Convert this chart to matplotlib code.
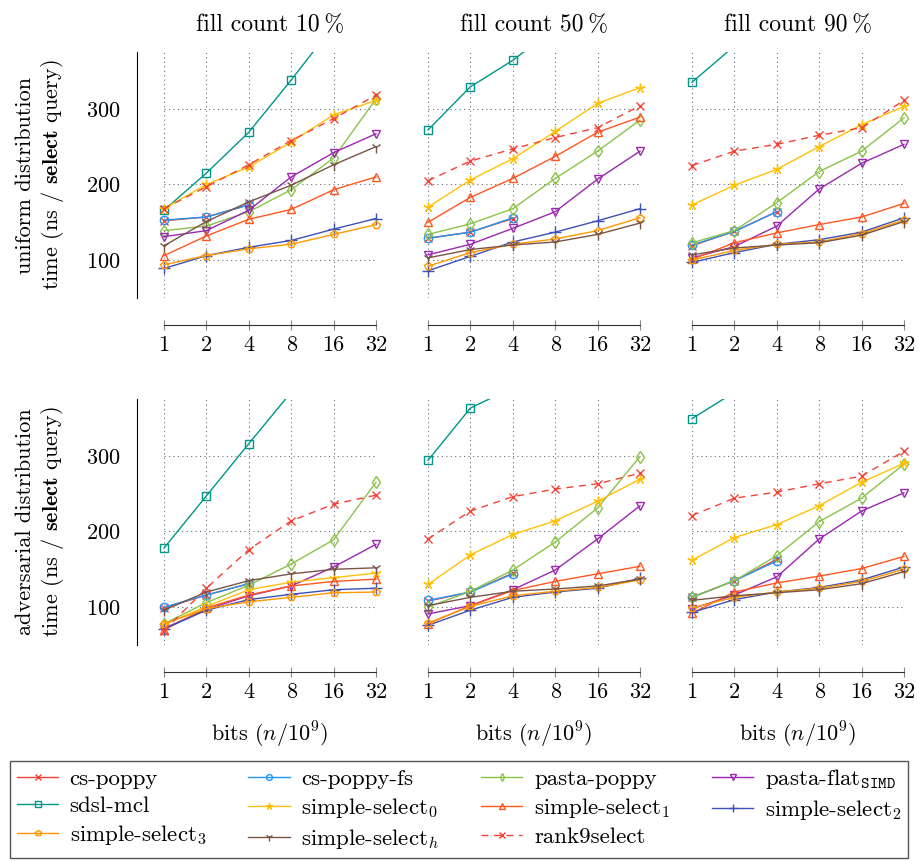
import matplotlib.pyplot as plt
from matplotlib.patches import Rectangle
from matplotlib.ticker import NullLocator

plt.rcParams['font.family'] = ['cmr10', 'DejaVu Serif']
plt.rcParams['mathtext.fontset'] = 'cm'
plt.rcParams['axes.formatter.use_mathtext'] = True

bits = [1, 2, 4, 8, 16, 32]
bit_labels = ['1', '2', '4', '8', '16', '32']
fill_counts = ['10', '50', '90']
distributions = ['uniform', 'adversarial']

# ns per select query, one list per fill count (10%, 50%, 90%)
# cs-poppy only runs up to 4e9 bits
cs_poppy_uniform = [[152, 157, 173], [129, 137, 155], [119, 138, 164]]
cs_poppy_adversarial = [[99, 116, 131], [108, 120, 145], [113, 135, 163]]
cs_poppy_fs_uniform = [[153, 157, 173], [129, 137, 156], [120, 138, 164]]
cs_poppy_fs_adversarial = [[100, 116, 131], [109, 120, 144], [113, 135, 161]]
pasta_poppy_uniform = [[139, 145, 164, 193, 235, 313],
                       [134, 148, 168, 208, 244, 285],
                       [123, 139, 176, 217, 244, 288]]
pasta_poppy_adversarial = [[78, 106, 129, 157, 189, 265],
                           [100, 121, 149, 186, 231, 299],
                           [113, 135, 168, 213, 244, 289]]
pasta_flat_uniform = [[131, 139, 166, 210, 242, 267],
                      [107, 121, 142, 164, 207, 244],
                      [103, 118, 145, 194, 228, 253]]
pasta_flat_adversarial = [[72, 97, 115, 128, 153, 183],
                          [91, 102, 123, 149, 190, 234],
                          [98, 116, 140, 190, 227, 251]]
sdsl_mcl_uniform = [[166, 215, 269, 338, 410, 500],
                    [272, 329, 364, 407, 450, 500],
                    [335, 383, 420, 460, 500, 540]]
sdsl_mcl_adversarial = [[178, 247, 316, 384, 440, 500],
                        [294, 363, 390, 420, 450, 500],
                        [349, 384, 410, 440, 470, 500]]
simple0_uniform = [[168, 200, 223, 256, 292, 311],
                   [170, 206, 234, 270, 307, 328],
                   [173, 199, 220, 250, 279, 303]]
simple0_adversarial = [[77, 101, 123, 133, 139, 145],
                       [130, 169, 196, 214, 240, 269],
                       [162, 192, 209, 234, 265, 290]]
simple1_uniform = [[106, 132, 154, 167, 193, 210],
                   [150, 183, 208, 237, 269, 289],
                   [101, 123, 136, 147, 157, 175]]
simple1_adversarial = [[70, 99, 116, 128, 134, 137],
                       [78, 102, 122, 134, 144, 154],
                       [92, 120, 132, 141, 151, 167]]
simple2_uniform = [[89, 106, 117, 126, 141, 155],
                   [86, 105, 124, 137, 152, 168],
                   [97, 110, 121, 127, 137, 156]]
simple2_adversarial = [[71, 96, 110, 117, 123, 125],
                       [76, 96, 113, 120, 125, 138],
                       [93, 110, 120, 126, 136, 153]]
simple3_uniform = [[94, 106, 115, 121, 134, 147],
                   [92, 110, 121, 128, 139, 156],
                   [100, 113, 121, 124, 135, 153]]
simple3_adversarial = [[78, 98, 107, 113, 119, 120],
                       [79, 101, 115, 121, 126, 136],
                       [99, 113, 120, 125, 134, 150]]
simple_h_uniform = [[119, 151, 177, 199, 226, 250],
                    [103, 114, 120, 124, 134, 149],
                    [107, 116, 120, 123, 133, 151]]
simple_h_adversarial = [[96, 120, 135, 144, 150, 152],
                        [102, 113, 121, 124, 128, 137],
                        [109, 115, 119, 123, 131, 147]]
rank9_uniform = [[168, 197, 226, 258, 287, 318],
                 [205, 231, 247, 262, 275, 304],
                 [225, 244, 253, 265, 275, 311]]
rank9_adversarial = [[69, 125, 176, 214, 236, 248],
                     [190, 227, 246, 256, 263, 277],
                     [221, 244, 252, 263, 273, 306]]

series = [
    ('cs-poppy', cs_poppy_uniform, cs_poppy_adversarial, '#f44336', 'x', '-'),
    ('cs-poppy-fs', cs_poppy_fs_uniform, cs_poppy_fs_adversarial, '#2196f3', 'o', '-'),
    ('pasta-poppy', pasta_poppy_uniform, pasta_poppy_adversarial, '#8bc34a', 'd', '-'),
    ('pasta-flat$_{\\mathtt{SIMD}}$', pasta_flat_uniform, pasta_flat_adversarial, '#9c27b0', 'v', '-'),
    ('sdsl-mcl', sdsl_mcl_uniform, sdsl_mcl_adversarial, '#009688', 's', '-'),
    ('simple-select$_0$', simple0_uniform, simple0_adversarial, '#ffc107', (5, 2, 0), '-'),
    ('simple-select$_1$', simple1_uniform, simple1_adversarial, '#ff5722', '^', '-'),
    ('simple-select$_2$', simple2_uniform, simple2_adversarial, '#3f51b5', '+', '-'),
    ('simple-select$_3$', simple3_uniform, simple3_adversarial, '#ff9800', 'p', '-'),
    ('simple-select$_h$', simple_h_uniform, simple_h_adversarial, '#795548', '1', '-'),
    ('rank9select', rank9_uniform, rank9_adversarial, '#f44336', 'x', (0, (5, 4))),
]

FS = 16
W, H = 918, 861
lefts = [164, 428, 692]
tops = [52, 399]
aw, ah = 212, 246

fig = plt.figure(figsize=(W / 100, H / 100), dpi=100)
handles = {}

for r, dist in enumerate(distributions):
    for c, fill in enumerate(fill_counts):
        ax = fig.add_axes([lefts[c] / W, 1 - (tops[r] + ah) / H, aw / W, ah / H])
        ax.set_xscale('log', base=2)
        clip = Rectangle((-0.06, 0), 1.12, 1, transform=ax.transAxes)
        for label, uni, adv, color, marker, ls in series:
            vals = (uni if r == 0 else adv)[c]
            ms = 7 if marker == (5, 2, 0) else (8 if marker in ('+', '1') else 6)
            ln, = ax.plot(bits[:len(vals)], vals, color=color, ls=ls, lw=1.0,
                          marker=marker, ms=ms, mfc='none', mew=1.0, label=label)
            ln.set_clip_path(clip)
            handles[label] = ln

        ax.set_xlim(1, 32)
        ax.set_ylim(50, 375)
        ax.set_xticks(bits, bit_labels)
        ax.xaxis.set_minor_locator(NullLocator())
        ax.set_yticks([100, 200, 300])
        ax.set_axisbelow(True)
        ax.grid(True, ls=(0, (1, 3)), color='#5f6f80', lw=0.8)

        for s in ('top', 'right'):
            ax.spines[s].set_visible(False)
        ax.spines['bottom'].set_position(('outward', 19.5))
        ax.spines['bottom'].set_color('#333333')
        ax.tick_params(axis='x', direction='inout', length=6.5, width=0.8,
                       color='#888888', labelsize=FS, pad=4)
        if c == 0:
            ax.spines['left'].set_position(('outward', 19.5))
            ax.tick_params(axis='y', length=0, labelsize=FS, pad=12)
            ax.set_ylabel(dist + ' distribution\ntime (ns / $\\mathbf{select}$ query)',
                          fontsize=FS, linespacing=1.25)
            ax.yaxis.set_label_coords(-0.46, 0.5)
        else:
            ax.spines['left'].set_visible(False)
            ax.tick_params(axis='y', length=0, labelleft=False)

        if r == 0:
            ax.set_title('fill count ' + fill + '\u2009%', fontsize=FS + 1, pad=15)
        else:
            ax.set_xlabel('bits ($n/10^9$)', fontsize=FS, labelpad=13)

order = [0, 4, 8, 1, 5, 9, 2, 6, 10, 3, 7]
labels = [series[i][0] for i in order]
leg = fig.legend([handles[l] for l in labels], labels, ncol=4, mode='expand',
                 loc='lower left', bbox_to_anchor=(10 / W, 3 / H, 898 / W, 101 / H),
                 fontsize=FS + 0.5, handlelength=1.8, handletextpad=0.5,
                 borderaxespad=0, borderpad=0.3, fancybox=False, edgecolor='#555555',
                 framealpha=1, labelspacing=0.3, markerscale=0.7)
leg.get_frame().set_linewidth(1.0)

fig.savefig('out.png', dpi=100)
